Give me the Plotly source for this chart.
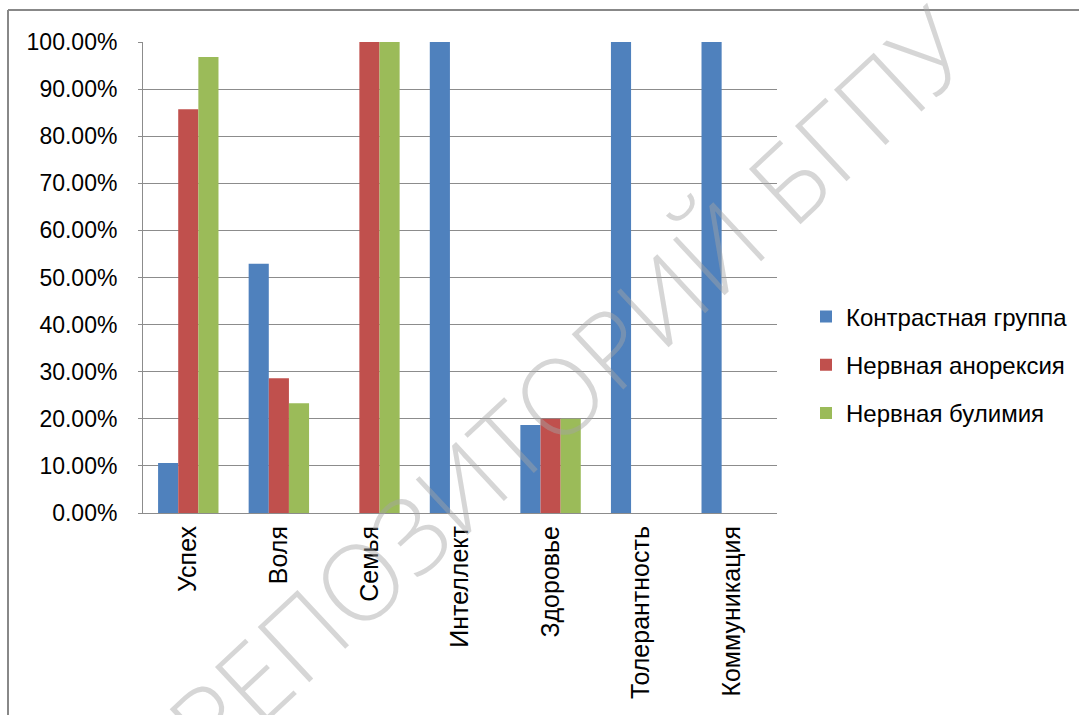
import plotly.graph_objects as go

categories = ["Успех", "Воля", "Семья", "Интеллект", "Здоровье", "Толерантность", "Коммуникация"]
series_names = ["Контрастная группа", "Нервная анорексия", "Нервная булимия"]
contrast = [0.106, 0.529, 0.0, 1.0, 0.187, 1.0, 1.0]
anorexia = [0.857, 0.286, 1.0, 0.0, 0.20, 0.0, 0.0]
bulimia = [0.968, 0.233, 1.0, 0.0, 0.20, 0.0, 0.0]
colors = ["#4F81BD", "#C0504D", "#9BBB59"]
y_ticks = [i / 10 for i in range(11)]
watermark = "РЕПОЗИТОРИЙ БГПУ"

W, H = 1079, 715
L, R, T, B = 143, 777, 42, 513

fig = go.Figure()
for i, (name, vals) in enumerate(zip(series_names, [contrast, anorexia, bulimia])):
    fig.add_trace(go.Bar(
        x=categories, y=vals, name=name,
        marker=dict(color=colors[i], line=dict(width=0)),
        legendgroup=f"g{i}",
    ))

def px_x(p):
    return (p - L) / (R - L)

def px_y(p):
    return (B - p) / (B - T)

font = "Liberation Sans, Arial, sans-serif"

fig.update_layout(
    width=W, height=H,
    margin=dict(l=L, r=W - R, t=T, b=H - B, autoexpand=False),
    paper_bgcolor="white", plot_bgcolor="white",
    barmode="group", bargap=0.333, bargroupgap=0,
    font=dict(family=font, size=23, color="#000000"),
    showlegend=True,
    legend=dict(
        x=px_x(806), y=px_y(365), xanchor="left", yanchor="middle",
        font=dict(family=font, size=24, color="#000000"),
        tracegroupgap=14, itemwidth=30, bgcolor="rgba(0,0,0,0)",
    ),
    xaxis=dict(
        tickangle=-90, showgrid=False, showline=True, linecolor="#8c8c8c", linewidth=1,
        ticks="", tickfont=dict(family=font, size=25), ticklabelstandoff=2,
    ),
    yaxis=dict(
        range=[0, 1], tickvals=y_ticks, tickformat=".2%", showgrid=True,
        gridcolor="#8c8c8c", gridwidth=1, showline=True, linecolor="#8c8c8c", linewidth=1,
        ticks="outside", ticklen=4, tickcolor="#8c8c8c", zeroline=False,
        tickfont=dict(family=font, size=23), ticklabelstandoff=16,
    ),
    shapes=[
        dict(type="line", xref="paper", yref="paper", x0=px_x(8), x1=px_x(8), y0=px_y(10), y1=px_y(740),
             line=dict(color="#888888", width=2)),
        dict(type="line", xref="paper", yref="paper", x0=px_x(8), x1=px_x(1100), y0=px_y(10), y1=px_y(10),
             line=dict(color="#888888", width=2)),
    ],
    annotations=[
        dict(text=watermark, xref="paper", yref="paper", x=px_x(568), y=px_y(385),
             showarrow=False, textangle=-43, xanchor="center", yanchor="middle",
             font=dict(family="Open Sans, sans-serif", size=106, color="rgba(165,165,165,0.45)", weight=300)),
    ],
)

fig.write_html("out.html")
